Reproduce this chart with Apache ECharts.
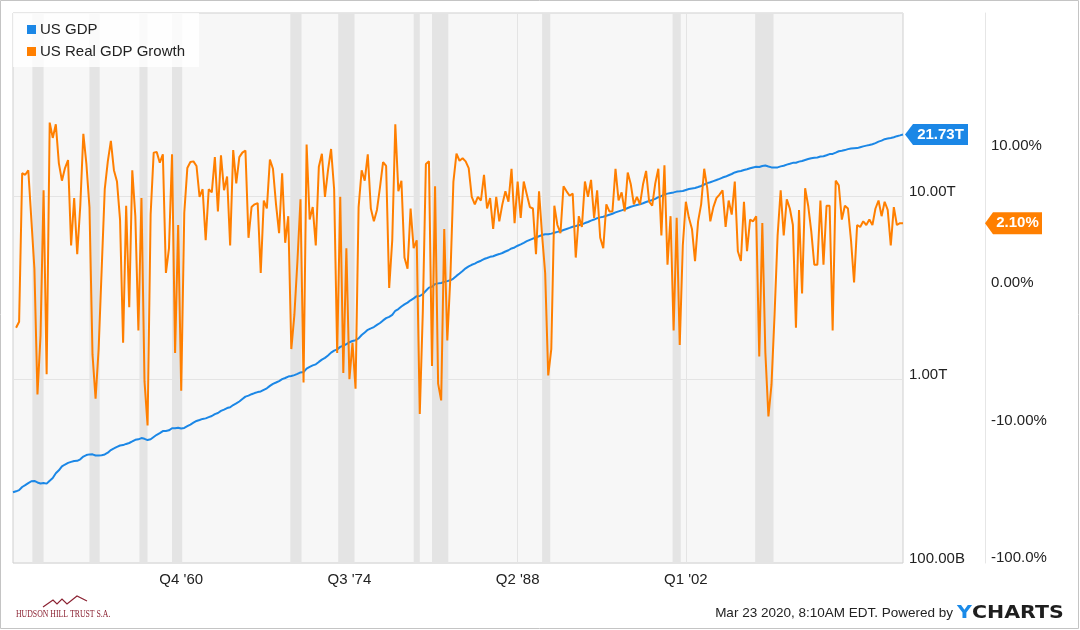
<!DOCTYPE html>
<html><head><meta charset="utf-8">
<script src="https://cdn.jsdelivr.net/npm/echarts@6/dist/echarts.min.js"></script>
<style>html,body{margin:0;padding:0;background:#fff}#c{width:1080px;height:630px}</style>
</head><body><div id="c"></div>
<script>
// First quarter of the data: 1947 Q1 (points dated at quarter end)
const startYear = 1947;

// US nominal GDP, billions USD (SAAR), 1947 Q1 .. 2019 Q4
const gdpBillions = [
243.2,246.0,249.6,259.7, 265.7,272.6,279.2,280.4, 275.0,271.4,273.0,271.0, 281.2,290.7,308.5,320.3,
336.4,344.5,351.6,356.2, 359.8,361.0,367.7,380.8, 387.9,391.2,391.3,385.6, 386.1,387.0,391.0,399.7,
413.1,421.5,430.2,437.5, 439.6,446.1,451.3,460.2, 469.8,472.8,480.3,475.7, 468.4,472.8,486.7,500.4,
511.1,524.2,525.2,529.3, 543.3,542.6,546.1,541.1, 545.2,557.4,568.9,582.4, 595.3,602.8,611.0,615.0,
624.4,633.4,649.0,658.2, 675.6,687.0,700.4,707.3, 727.2,741.7,760.2,784.5, 807.9,817.9,833.0,845.0,
855.5,862.0,880.5,897.1, 925.1,949.3,965.0,982.1, 1006.4,1021.1,1039.8,1047.8, 1058.7,1074.7,1095.5,1100.3,
1150.1,1175.3,1196.0,1212.6, 1249.8,1286.0,1314.7,1354.4, 1404.8,1439.8,1463.1,1509.1, 1530.4,1560.6,1600.9,1626.0,
1642.1,1680.7,1752.6,1807.9, 1869.8,1902.4,1936.4,1988.9, 2037.3,2105.0,2165.2,2199.3, 2254.5,2375.5,2427.6,2505.2,
2572.5,2632.1,2710.6,2774.3, 2853.5,2859.4,2926.8,3053.8, 3177.9,3215.0,3320.9,3351.6, 3365.9,3414.7,3447.9,3485.1,
3561.5,3681.4,3791.2,3910.6, 4047.0,4151.5,4232.7,4296.4, 4385.6,4453.5,4549.1,4611.7, 4676.9,4714.8,4784.9,4841.9,
4909.2,5000.4,5079.9,5195.0, 5261.5,5377.8,5473.6,5574.7, 5692.0,5790.0,5881.5,5938.3, 6060.8,6154.1,6212.1,6205.9,
6261.3,6329.3,6399.2,6446.2, 6548.6,6636.0,6724.6,6822.0, 6884.1,6954.8,7029.7,7149.5, 7247.1,7375.2,7471.4,7601.0,
7676.1,7743.0,7835.6,7936.0, 8034.3,8172.4,8278.8,8380.3, 8486.5,8635.4,8768.0,8871.5, 8969.7,9053.2,9167.1,9311.5,
9422.6,9551.5,9685.6,9891.1, 10023.7,10233.9,10347.4,10432.1, 10506.3,10613.1,10652.3,10701.4, 10835.4,10958.6,11035.4,11100.2,
11240.6,11385.7,11602.4,11800.2, 11935.5,12112.2,12277.8,12454.9, 12661.3,12821.3,13037.3,13237.0, 13504.0,13645.5,13735.3,13920.0,
14052.1,14217.4,14373.6,14483.7, 14460.8,14631.3,14723.5,14545.8, 14381.2,14342.1,14384.1,14566.3, 14681.5,14888.6,15057.7,15230.2,
15238.4,15460.9,15587.1,15785.3, 15973.9,16121.9,16227.9,16297.3, 16475.4,16541.4,16749.3,16999.9, 17031.3,17320.9,17622.3,17735.1,
17874.7,18093.0,18227.7,18287.2, 18325.2,18538.0,18729.1,18905.5, 19057.7,19250.0,19506.9,19882.4, 20143.7,20492.5,20659.1,20813.3,
21001.6,21289.3,21505.0,21726.8
];

// US real GDP growth, % annualized q/q, 1947 Q1 .. 2019 Q4
const realGrowthPct = [
null,-1.0,-0.8,6.4, 6.2,6.8,2.3,0.4, -5.4,-1.3,4.5,-3.5, 16.9,12.7,16.4,7.8,
5.5,7.1,8.3,1.1, 3.8,0.8,3.2,13.7, 7.7,3.1,-2.2,-5.9, -1.9,0.4,4.6,8.1,
12.0,6.8,5.4,2.3, -1.6,3.2,-0.4,6.8, 2.5,-1.1,3.8,-4.1, -10.0,2.6,9.6,9.7,
7.9,9.3,0.3,1.0, 9.3,-2.1,2.0,-5.0, 2.7,7.1,8.0,8.1, 7.4,3.9,4.6,1.3,
4.6,4.3,8.8,2.8, 9.1,4.5,6.0,1.1, 10.1,5.2,8.8,9.6, 10.0,1.4,3.1,3.3,
3.4,0.3,3.6,3.0, 8.4,7.0,3.3,1.6, 6.4,1.2,2.5,-1.9, -0.6,0.6,3.7,-4.2,
11.2,2.3,3.1,1.1, 7.3,9.4,3.9,6.8, 10.3,4.6,-2.1,3.9, -3.4,1.0,-3.9,-1.6,
-4.8,3.1,6.8,5.5, 9.3,3.0,2.2,2.9, 4.8,8.0,7.4,0.0, 1.3,16.4,4.4,5.5,
0.7,0.4,3.0,1.0, 1.3,-8.0,-0.5,7.7, 8.1,-2.9,4.9,-4.3, -6.1,1.8,-1.5,0.2,
5.4,9.4,8.2,8.6, 8.1,7.1,3.9,3.3, 3.9,3.6,6.2,3.0, 3.8,1.8,3.9,2.2,
3.3,4.4,3.5,7.0, 2.1,5.4,2.4,5.4, 4.1,3.1,3.0,0.8, 4.4,1.5,0.3,-3.6,
-1.9,3.2,2.0,1.6, 4.9,4.4,4.0,4.2, 0.7,2.5,1.9,5.4, 3.9,5.6,2.4,4.5,
1.4,1.0,3.3,2.8, 2.8,7.0,3.6,4.3, 2.8,6.5,5.1,3.3, 3.9,3.3,5.1,6.7,
3.5,3.2,5.2,7.0, 1.5,7.5,0.5,2.5, -1.1,2.4,-1.7,1.1, 3.5,2.4,1.8,0.6,
2.2,3.3,7.0,4.7, 2.2,3.1,3.8,4.1, 4.5,1.9,3.6,2.6, 5.4,0.9,0.6,3.5,
0.9,2.3,2.2,2.5, -2.3,2.1,-2.1,-8.4, -4.4,-0.6,1.5,4.5, 1.5,3.7,3.0,2.0,
-1.0,2.9,-0.1,4.7, 3.2,1.7,0.5,0.5, 3.6,0.5,3.2,3.2, -1.1,5.5,5.0,2.3,
3.2,3.0,1.3,0.1, 2.0,1.9,2.2,2.0, 2.3,2.0,3.0,3.6, 2.5,3.5,2.9,1.1,
3.1,2.0,2.1,2.1
];

// x-axis tick labels (quarters)
const xTickLabels = ["Q4 '60", "Q3 '74", "Q2 '88", "Q1 '02"];
// growth axis tick values (%)
const growthTicks = [-100, -10, 0, 10];
// GDP axis range (billions)
const gdpAxisRange = [100, 100000];
// NBER recessions, peak month -> trough month
const recessions = [
  ["1948-11","1949-10"],["1953-07","1954-05"],["1957-08","1958-04"],["1960-04","1961-02"],
  ["1969-12","1970-11"],["1973-11","1975-03"],["1980-01","1980-07"],["1981-07","1982-11"],
  ["1990-07","1991-03"],["2001-03","2001-11"],["2007-12","2009-06"]
];

// ---- helpers ----
const qx = i => startYear + (i + 1) / 4;                      // quarter-end as decimal year
const xTickValues = xTickLabels.map(s => { const q = +s[1]; let y = +s.slice(-2); y += (y < 30 ? 2000 : 1900); return y + q / 4; });
const monthToX = s => { const [y, m] = s.split('-').map(Number); return y + (m - 1) / 12; };
const sym = g => Math.sign(g) * Math.log10(1 + Math.abs(g));     // symmetric log transform
const unsym = t => Math.sign(t) * (Math.pow(10, Math.abs(t)) - 1);
const growthAxisMax = 2.083;

const gdpData = gdpBillions.map((v, i) => [qx(i), v]);
const growthData = realGrowthPct.map((v, i) => [qx(i), v == null ? null : sym(v)]);
const lastI = gdpBillions.length - 1;

const FONT = '"Liberation Sans", Arial, Helvetica, sans-serif';
const BLUE = '#1b87e6', ORANGE = '#ff7f00', TXT = '#222222';

const fmtGdp = v => {
  const r = Math.round(v);
  return r >= 1000 ? (r / 1000).toFixed(2) + 'T' : r.toFixed(2) + 'B';
};
const fmtPct = g => (Math.abs(g) >= 100 ? g.toFixed(1) : g.toFixed(2)) + '%';

const chart = echarts.init(document.getElementById('c'), null, { renderer: 'canvas' });
chart.setOption({
  animation: false,
  backgroundColor: '#ffffff',
  textStyle: { fontFamily: FONT },
  grid: {
    left: 13, top: 13, right: 177, bottom: 67, show: true,
    backgroundColor: '#f7f7f7', borderColor: '#cfcfcf', borderWidth: 1
  },
  legend: {
    left: 13, top: 13, orient: 'vertical', itemWidth: 9, itemHeight: 9, itemGap: 7,
    padding: [9, 14, 8, 14], backgroundColor: 'rgba(255,255,255,0.8)',
    icon: 'rect', textStyle: { fontSize: 15, color: TXT, fontFamily: FONT, padding: [0, 0, 0, -1] },
    data: ['US GDP', 'US Real GDP Growth']
  },
  xAxis: {
    type: 'value', min: qx(0), max: qx(lastI),
    axisLine: { show: false }, axisTick: { show: false, customValues: xTickValues },
    axisLabel: {
      customValues: xTickValues, fontSize: 15, color: TXT, margin: 9, fontFamily: FONT,
      formatter: v => { const k = xTickValues.findIndex(t => Math.abs(t - v) < 1e-6); return k >= 0 ? xTickLabels[k] : ''; }
    },
    splitLine: { show: true, lineStyle: { color: '#e4e4e4', width: 1 } }
  },
  yAxis: [
    {
      type: 'log', logBase: 10, min: gdpAxisRange[0], max: gdpAxisRange[1], position: 'right',
      axisLine: { show: false }, axisTick: { show: false },
      axisLabel: {
        margin: 6, verticalAlign: 'middle',
        formatter: v => v > gdpAxisRange[1] * 0.5 ? '' : '{a|' + fmtGdp(v) + '}\n{a| }',
        rich: { a: { fontSize: 15, lineHeight: 9, color: TXT, fontFamily: FONT } }
      },
      splitLine: { show: true, lineStyle: { color: '#e4e4e4', width: 1 } }
    },
    {
      type: 'value', min: -growthAxisMax, max: growthAxisMax, position: 'right', offset: 82,
      axisLine: { show: true, lineStyle: { color: '#e6e6e6', width: 1 } }, axisTick: { show: false },
      splitLine: { show: false },
      axisLabel: {
        customValues: growthTicks.map(sym), margin: 6, verticalAlign: 'middle',
        formatter: t => {
          const g = Math.round(unsym(t));
          const s = fmtPct(g);
          return g === growthTicks[0] ? '{a| }\n{a|' + s + '}' : '{a|' + s + '}\n{a| }';
        },
        rich: { a: { fontSize: 15, lineHeight: 10, color: TXT, fontFamily: FONT } }
      }
    }
  ],
  series: [
    {
      name: 'US GDP', type: 'line', yAxisIndex: 0, data: gdpData, showSymbol: false, symbol: 'none',
      lineStyle: { color: BLUE, width: 2 }, itemStyle: { color: BLUE }, z: 2,
      markArea: {
        silent: true, itemStyle: { color: '#e4e4e4' },
        data: recessions.map(r => [{ xAxis: monthToX(r[0]) }, { xAxis: monthToX(r[1]) }])
      },
      markPoint: {
        silent: true,
        symbol: 'path://M0,10.5 L8,0 L63,0 L63,21 L8,21 Z', symbolSize: [63, 21], symbolOffset: [33.5, 0],
        itemStyle: { color: BLUE },
        label: { show: true, position: 'inside', offset: [4, 0], color: '#fff', fontWeight: 'bold', fontSize: 15, fontFamily: FONT,
          formatter: p => fmtGdp(p.value) },
        data: [{ coord: [qx(lastI), gdpBillions[lastI]], value: gdpBillions[lastI] }]
      }
    },
    {
      name: 'US Real GDP Growth', type: 'line', yAxisIndex: 1, data: growthData, showSymbol: false, symbol: 'none',
      lineStyle: { color: ORANGE, width: 2 }, itemStyle: { color: ORANGE }, z: 3,
      markPoint: {
        silent: true,
        symbol: 'path://M0,11 L8,0 L57,0 L57,22 L8,22 Z', symbolSize: [57, 22], symbolOffset: [110.5, 0],
        itemStyle: { color: ORANGE },
        label: { show: true, position: 'inside', offset: [4, 0], color: '#fff', fontWeight: 'bold', fontSize: 15, fontFamily: FONT,
          formatter: p => fmtPct(p.value) },
        data: [{ coord: [qx(lastI), sym(realGrowthPct[lastI])], value: realGrowthPct[lastI] }]
      }
    }
  ],
  graphic: [
    { type: 'rect', silent: true, z: 100, shape: { x: 0.5, y: 0.5, width: 1078, height: 628 },
      style: { fill: 'none', stroke: '#c4c4c4', lineWidth: 1 } },
    { type: 'polyline', silent: true, shape: { points: [[43,607],[53,600],[57,604],[62,599],[67,604],[77,596],[87,601]] },
      style: { fill: 'none', stroke: '#8b2232', lineWidth: 1.2 } },
    { type: 'text', silent: true, x: 16, y: 614, scaleX: 0.74,
      style: { text: 'HUDSON HILL TRUST S.A.', font: '10.5px "Liberation Serif", "Times New Roman", serif', fill: '#8b2232', align: 'left', verticalAlign: 'middle' } },
    { type: 'text', silent: true, x: 953, y: 613.5,
      style: { text: 'Mar 23 2020, 8:10AM EDT. Powered by', font: '13.5px ' + FONT, fill: TXT, align: 'right', verticalAlign: 'middle' } },
    { type: 'text', silent: true, x: 957, y: 613, scaleX: 1.14,
      style: { text: 'Y', font: 'bold 18px "DejaVu Sans", sans-serif', fill: '#1a8ae8', align: 'left', verticalAlign: 'middle' } },
    { type: 'text', silent: true, x: 972, y: 613, scaleX: 1.14,
      style: { text: 'CHARTS', font: 'bold 18px "DejaVu Sans", sans-serif', fill: '#1e1e1e', align: 'left', verticalAlign: 'middle' } }
  ]
});
</script></body></html>
